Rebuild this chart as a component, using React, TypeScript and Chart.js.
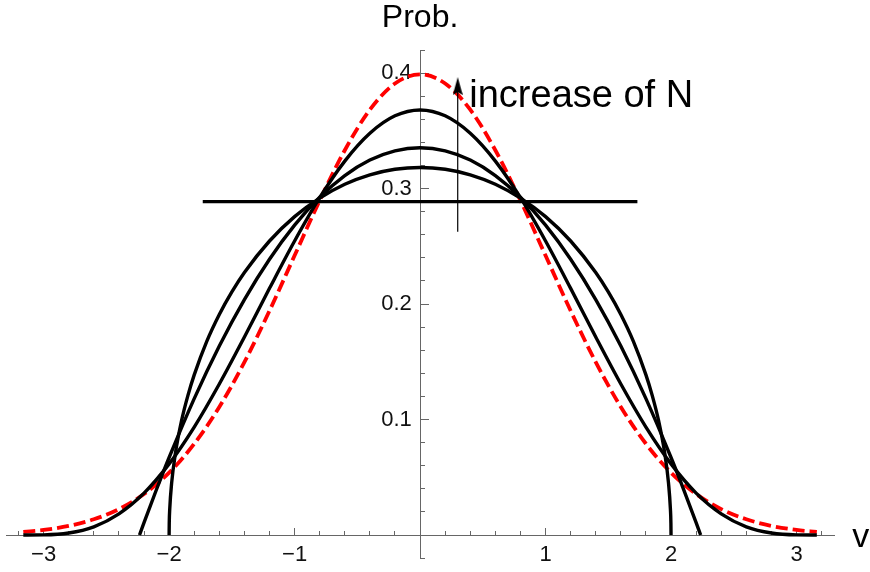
import React, { useEffect, useRef } from 'react';
import { Chart, registerables } from 'chart.js';

Chart.register(...registerables);

// ---- axis ranges & tick labels ----
const X_MIN = -3.3;
const X_MAX = 3.3;
const Y_MIN = -0.02;
const Y_MAX = 0.42;
const xMajorTicks = [-3, -2, -1, 1, 2, 3];
const yMajorTicks = [0.1, 0.2, 0.3, 0.4];
const X_MINOR_STEP = 0.2;
const Y_MINOR_STEP = 0.02;

// ---- series (right half; curves are symmetric about v = 0) ----
const uniformX = [-1.732, 1.732];
const uniformY = [0.2887, 0.2887];

const semiX = [0, 0.2, 0.4, 0.6, 0.8, 1.0, 1.2, 1.4, 1.5, 1.6, 1.7, 1.8, 1.85, 1.9, 1.95, 1.98, 1.995, 1.999, 2.0];
const semiY = [0.3183, 0.3167, 0.3119, 0.3037, 0.2917, 0.2757, 0.2546, 0.2273, 0.2105, 0.191, 0.1677, 0.1387, 0.1209, 0.0994, 0.0707, 0.0449, 0.0225, 0.0101, 0];

const n5X = [0, 0.2, 0.4, 0.6, 0.8, 1.0, 1.2, 1.4, 1.6, 1.8, 2.0, 2.1, 2.2, 2.236];
const n5Y = [0.3354, 0.3327, 0.3247, 0.3113, 0.2925, 0.2683, 0.2388, 0.2039, 0.1637, 0.1181, 0.0671, 0.0396, 0.0107, 0];

const n10X = [0, 0.2, 0.4, 0.6, 0.8, 1.0, 1.2, 1.4, 1.6, 1.8, 2.0, 2.2, 2.4, 2.6, 2.8, 3.0, 3.162];
const n10Y = [0.3681, 0.363, 0.3479, 0.3238, 0.2921, 0.2546, 0.2136, 0.1715, 0.1308, 0.0935, 0.0616, 0.0363, 0.0183, 0.0071, 0.0017, 0.0001, 0];

const gaussX = [0, 0.2, 0.4, 0.6, 0.8, 1.0, 1.2, 1.4, 1.6, 1.8, 2.0, 2.2, 2.4, 2.6, 2.8, 3.0, 3.162];
const gaussY = [0.3989, 0.391, 0.3683, 0.3332, 0.2897, 0.242, 0.1942, 0.1497, 0.1109, 0.079, 0.054, 0.0355, 0.0224, 0.0136, 0.0079, 0.0044, 0.0027];

// ---- annotation ----
const arrowX = [0.3, 0.3];
const arrowY = [0.2626, 0.385];
const arrowHeadY = 0.3888;
const annotText = 'increase of N';
const annotPos = { x: 0.392, y: 0.371 };
const yTitle = 'Prob.';
const xTitle = 'v';

const FONT = '"Liberation Sans", Arial, Helvetica, sans-serif';
const AXIS_COLOR = '#666666';

function mirror(xs: number[], ys: number[]) {
  const pts: { x: number; y: number }[] = [];
  for (let i = xs.length - 1; i >= 1; i--) pts.push({ x: -xs[i], y: ys[i] });
  for (let i = 0; i < xs.length; i++) pts.push({ x: xs[i], y: ys[i] });
  return pts;
}

function pairs(xs: number[], ys: number[]) {
  return xs.map((x, i) => ({ x, y: ys[i] }));
}

function steps(min: number, max: number, step: number) {
  const out: { value: number }[] = [];
  const n = Math.round((max - min) / step);
  for (let i = 0; i <= n; i++) out.push({ value: +(min + i * step).toFixed(4) });
  return out;
}

const textPlugin = {
  id: 'texts',
  afterDraw(chart: any) {
    const { ctx } = chart;
    const sx = chart.scales.x;
    const sy = chart.scales.y;
    ctx.save();
    ctx.fillStyle = '#000';
    ctx.textBaseline = 'alphabetic';
    ctx.font = `32px ${FONT}`;
    ctx.textAlign = 'center';
    ctx.fillText(yTitle, sx.getPixelForValue(0), sy.getPixelForValue(Y_MAX) - 23);
    ctx.font = `38px ${FONT}`;
    ctx.textAlign = 'left';
    ctx.fillText(annotText, sx.getPixelForValue(annotPos.x), sy.getPixelForValue(annotPos.y));
    ctx.font = `34px ${FONT}`;
    ctx.fillText(xTitle, sx.getPixelForValue(X_MAX) + 18, sy.getPixelForValue(0) + 12);
    ctx.restore();
  },
};

export default function App() {
  const ref = useRef<HTMLCanvasElement>(null);

  useEffect(() => {
    if (!ref.current) return;
    const head = document.createElement('canvas');
    head.width = 10;
    head.height = 18;
    const hc = head.getContext('2d')!;
    hc.fillStyle = '#000';
    hc.beginPath();
    hc.moveTo(5, 0);
    hc.lineTo(10, 18);
    hc.lineTo(5, 15);
    hc.lineTo(0, 18);
    hc.closePath();
    hc.fill();

    const black = {
      showLine: true,
      borderColor: '#000',
      borderWidth: 3.4,
      pointRadius: 0,
      cubicInterpolationMode: 'monotone' as const,
      fill: false,
    };

    const tickFont = { family: FONT, size: 22 };

    const chart = new Chart(ref.current, {
      type: 'scatter',
      data: {
        datasets: [
          { data: [{ x: arrowX[0], y: arrowHeadY }], pointStyle: head as any, pointRadius: 5, showLine: false, order: 0 } as any,
          { data: pairs(arrowX, arrowY), showLine: true, borderColor: '#000', borderWidth: 1.2, pointRadius: 0, order: 1 },
          { ...black, data: pairs(uniformX, uniformY), order: 2 },
          { ...black, data: mirror(semiX, semiY), order: 3 },
          { ...black, data: mirror(n5X, n5Y), order: 4 },
          { ...black, data: mirror(n10X, n10Y), order: 5 },
          {
            data: mirror(gaussX, gaussY),
            showLine: true,
            borderColor: '#ff0000',
            borderWidth: 3.8,
            borderDash: [12, 5],
            pointRadius: 0,
            cubicInterpolationMode: 'monotone',
            order: 6,
          } as any,
        ],
      },
      options: {
        responsive: false,
        animation: false,
        devicePixelRatio: 1,
        layout: { padding: { left: 5.85, right: 35.85, top: 50, bottom: 13.9 } },
        plugins: { legend: { display: false }, tooltip: { enabled: false } },
        events: [],
        scales: {
          x: {
            type: 'linear', min: X_MIN, max: X_MAX, position: { y: 0 } as any,
            grid: { drawOnChartArea: false, drawTicks: true, tickLength: -8, tickColor: AXIS_COLOR, tickWidth: 1 },
            border: { display: true, color: AXIS_COLOR, width: 1 },
            ticks: { display: false },
            afterBuildTicks: (s: any) => { s.ticks = xMajorTicks.map((v) => ({ value: v })); },
          },
          xMinor: {
            type: 'linear', min: X_MIN, max: X_MAX, position: { y: 0 } as any,
            grid: { drawOnChartArea: false, drawTicks: true, tickLength: -4, tickColor: AXIS_COLOR, tickWidth: 1 },
            border: { display: false },
            ticks: { display: false },
            afterBuildTicks: (s: any) => { s.ticks = steps(-3.2, 3.2, X_MINOR_STEP); },
          },
          xLabels: {
            type: 'linear', min: X_MIN, max: X_MAX, position: { y: 0 } as any,
            grid: { display: false, drawTicks: false },
            border: { display: false },
            ticks: {
              display: true, padding: 7, color: '#111', font: tickFont, maxRotation: 0, autoSkip: false,
              callback: (v: any) => (v < 0 ? '\u2212' + Math.abs(v) : String(v)),
            },
            afterBuildTicks: (s: any) => { s.ticks = xMajorTicks.map((v) => ({ value: v })); },
          },
          y: {
            type: 'linear', min: Y_MIN, max: Y_MAX, position: { x: 0 } as any,
            grid: { drawOnChartArea: false, drawTicks: true, tickLength: -9, tickColor: AXIS_COLOR, tickWidth: 1 },
            border: { display: true, color: AXIS_COLOR, width: 1 },
            ticks: { display: false },
            afterBuildTicks: (s: any) => { s.ticks = yMajorTicks.map((v) => ({ value: v })); },
          },
          yMinor: {
            type: 'linear', min: Y_MIN, max: Y_MAX, position: { x: 0 } as any,
            grid: { drawOnChartArea: false, drawTicks: true, tickLength: -5, tickColor: AXIS_COLOR, tickWidth: 1 },
            border: { display: false },
            ticks: { display: false },
            afterBuildTicks: (s: any) => { s.ticks = steps(Y_MIN, Y_MAX, Y_MINOR_STEP); },
          },
          yLabels: {
            type: 'linear', min: Y_MIN, max: Y_MAX, position: { x: -0.066 } as any,
            grid: { display: false, drawTicks: false },
            border: { display: false },
            ticks: {
              display: true, padding: 0, color: '#111', font: tickFont, autoSkip: false,
              callback: (v: any) => Number(v).toFixed(1),
            },
            afterBuildTicks: (s: any) => { s.ticks = yMajorTicks.map((v) => ({ value: v })); },
          },
        } as any,
      },
      plugins: [textPlugin],
    });
    return () => chart.destroy();
  }, []);

  return (
    <div style={{ position: 'absolute', left: 0, top: 0, width: 870, height: 572, background: '#fff' }}>
      <canvas ref={ref} width={870} height={572} style={{ width: 870, height: 572 }} />
    </div>
  );
}
